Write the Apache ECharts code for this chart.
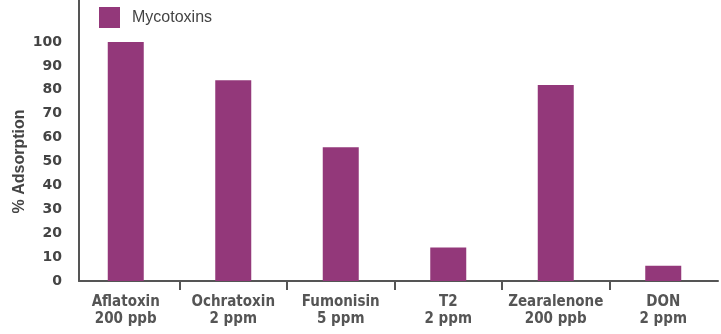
<!DOCTYPE html>
<html><head><meta charset="utf-8">
<script src="https://cdn.jsdelivr.net/npm/echarts@6/dist/echarts.min.js"></script>
<style>html,body{margin:0;padding:0;background:#fff}#c{width:721px;height:334px}</style>
</head><body><div id="c"></div>
<script>
const categories = ['Aflatoxin\n200 ppb','Ochratoxin\n2 ppm','Fumonisin\n5 ppm','T2\n2 ppm','Zearalenone\n200 ppb','DON\n2 ppm'];
const seriesName = 'Mycotoxins';
const adsorption = [100, 84, 56, 14, 82, 6.4];
const yTicks = [0,10,20,30,40,50,60,70,80,90,100];
const boundaryTicks = [1,2,3,4,5];

const axisColor = '#555';
const chart = echarts.init(document.getElementById('c'), null, {renderer:'canvas'});
chart.setOption({
  animation:false,
  backgroundColor:'#fff',
  legend:{
    left:99, top:7, padding:0, itemWidth:21, itemHeight:21, icon:'rect',
    data:[seriesName],
    textStyle:{color:'#444', fontSize:16, fontFamily:'Liberation Sans, sans-serif', padding:[0,0,0,7]}
  },
  grid:[
    {left:72, right:4, top:42, bottom:53, containLabel:false},
    {left:79, right:3, top:0, bottom:53, containLabel:false}
  ],
  xAxis:[{
    type:'category', data:categories, gridIndex:0,
    axisLine:{show:false},
    axisTick:{show:false},
    axisLabel:{interval:0, color:'#555', fontSize:15, fontWeight:'bold', lineHeight:17, margin:13,
      fontFamily:'Liberation Sans Narrow, DejaVu Sans Condensed, sans-serif'}
  },{
    type:'category', data:categories, gridIndex:1,
    axisLine:{show:true, onZero:false, lineStyle:{color:axisColor, width:2}},
    axisTick:{show:false}, axisLabel:{show:false}, splitLine:{show:false}
  },{
    type:'value', gridIndex:0, min:0, max:categories.length, position:'bottom',
    axisLine:{show:false, onZero:false},
    axisTick:{show:true, length:9, customValues:boundaryTicks, lineStyle:{color:axisColor, width:2}},
    axisLabel:{show:false}, splitLine:{show:false}
  }],
  yAxis:[{
    type:'value', gridIndex:0, min:0, max:100, interval:10,
    splitLine:{show:false},
    axisLine:{show:false},
    axisTick:{show:false},
    axisLabel:{color:'#444', fontSize:14, fontWeight:'bold', margin:10,
      fontFamily:'DejaVu Sans, sans-serif',
      formatter:function(v){return yTicks.indexOf(v)>=0 ? String(v) : '';}},
    name:'% Adsorption', nameLocation:'middle', nameGap:44, nameMoveOverlap:false,
    nameTextStyle:{color:'#444', fontSize:16, fontWeight:'bold', fontFamily:'Liberation Sans, sans-serif'}
  },{
    type:'value', gridIndex:1, min:0, max:100,
    splitLine:{show:false},
    axisLine:{show:true, onZero:false, lineStyle:{color:axisColor, width:2}},
    axisTick:{show:false}, axisLabel:{show:false}
  }],
  series:[{
    name:seriesName, type:'bar', xAxisIndex:0, yAxisIndex:0,
    data:adsorption, barWidth:36,
    itemStyle:{color:'#93387a'}
  }]
});
</script></body></html>
